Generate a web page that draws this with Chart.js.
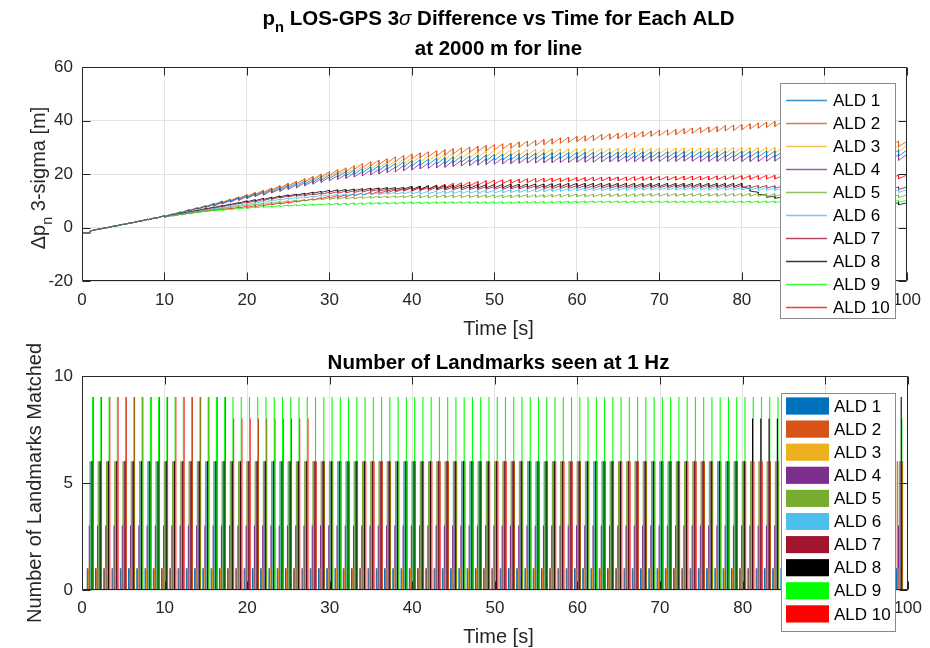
<!DOCTYPE html>
<html>
<head>
<meta charset="utf-8">
<title>ALD 3-sigma difference and landmarks matched</title>
<script src="https://cdn.jsdelivr.net/npm/chart.js@4.4.1/dist/chart.umd.min.js"></script>
<style>
  html, body { margin: 0; padding: 0; background: #ffffff; }
  #wrap { position: relative; width: 930px; height: 648px; overflow: hidden; }
  canvas { position: absolute; left: 0; }
  #sigmaChart { top: 0; }
  #landmarkChart { top: 340px; }
</style>
</head>
<body>
<div id="wrap">
  <canvas id="sigmaChart" width="930" height="340"></canvas>
  <canvas id="landmarkChart" width="930" height="308"></canvas>
</div>
<script>
// ---------------------------------------------------------------------------
// Data
// ---------------------------------------------------------------------------
const aldNames = ['ALD 1', 'ALD 2', 'ALD 3', 'ALD 4', 'ALD 5', 'ALD 6', 'ALD 7', 'ALD 8', 'ALD 9', 'ALD 10'];
const aldColors = ['#0072BD', '#D95319', '#EDB120', '#7E2F8E', '#77AC30', '#4DBEEE', '#A2142F', '#000000', '#00FF00', '#FF0000'];

// landmark update instants [s]
const updateTimes = [0,1,2,3,4,5,6,7,8,9,10,11,12,13,14,15,16,17,18,19,20,21,22,23,24,25,26,27,28,29,30,31,32,33,34,35,36,37,38,39,40,41,42,43,44,45,46,47,48,49,50,51,52,53,54,55,56,57,58,59,60,61,62,63,64,65,66,67,68,69,70,71,72,73,74,75,76,77,78,79,80,81,82,83,84,85,86,87,88,89,90,91,92,93,94,95,96,97,98,99,100];

// 3-sigma difference [m] right after each update (t = 0 .. 99)
// and right before each update (t = 1 .. 100)
const ald1After = [-2.1,-1.3,-0.7,-0.1,0.5,1.1,1.7,2.3,2.9,3.5,
  4.1,4.8,5.4,6.2,6.9,7.6,8.2,9.0,9.7,10.4,
  11.1,11.9,12.5,13.3,14.0,14.7,15.4,16.2,16.9,17.6,
  18.3,18.9,19.3,19.9,20.4,20.9,21.3,21.8,22.2,22.6,
  23.0,23.3,23.5,23.7,23.9,24.2,24.4,24.5,24.7,24.9,
  25.1,25.2,25.3,25.4,25.5,25.6,25.7,25.7,25.8,25.8,
  25.9,25.9,25.9,26.0,26.0,26.0,26.0,26.0,26.1,26.1,
  26.1,26.1,26.1,26.2,26.2,26.2,26.2,26.2,26.3,26.3,
  26.3,26.3,26.3,26.4,26.4,26.4,26.4,26.4,26.5,26.5,
  26.5,26.5,26.5,26.6,26.6,26.6,26.6,26.6,26.7,26.7];
const ald1Before = [-2.0,-0.6,0.0,0.6,1.2,1.8,2.4,3.1,3.7,4.4,
  5.0,5.8,6.6,7.3,8.0,8.8,9.6,10.3,11.2,11.9,
  12.7,13.5,14.3,15.0,15.9,16.6,17.4,18.1,19.0,19.7,
  20.3,20.9,21.5,22.0,22.7,23.1,23.6,24.0,24.6,25.0,
  25.3,25.5,25.9,26.1,26.4,26.6,26.7,26.9,27.1,27.3,
  27.4,27.5,27.6,27.7,27.8,27.9,27.9,28.0,28.0,28.1,
  28.1,28.1,28.2,28.2,28.2,28.2,28.2,28.3,28.3,28.3,
  28.3,28.3,28.4,28.4,28.4,28.4,28.4,28.5,28.5,28.5,
  28.5,28.5,28.6,28.6,28.6,28.6,28.6,28.7,28.7,28.7,
  28.7,28.7,28.8,28.8,28.8,28.8,28.8,28.9,28.9,28.9];

const ald2After = [-2.1,-1.3,-0.7,-0.1,0.5,1.1,1.7,2.3,2.9,3.5,
  4.1,4.9,5.6,6.3,7.0,7.8,8.6,9.3,10.0,10.8,
  11.5,12.3,13.1,14.0,14.7,15.5,16.3,17.1,17.9,18.8,
  19.5,20.2,20.9,21.7,22.3,23.0,23.6,24.1,24.6,25.1,
  25.7,26.1,26.5,26.7,27.1,27.5,27.8,28.1,28.4,28.7,
  29.0,29.3,29.6,30.0,30.3,30.6,30.9,31.2,31.5,31.8,
  32.1,32.3,32.5,32.8,33.0,33.2,33.4,33.6,33.9,34.1,
  34.3,34.5,34.7,35.0,35.2,35.4,35.6,35.8,36.1,36.3,
  36.5,36.8,37.1,37.4,37.7,38.0,38.2,38.3,38.5,37.0,
  35.8,34.8,33.9,33.1,32.4,31.8,31.3,30.9,30.6,30.3];
const ald2Before = [-2.0,-0.6,0.0,0.6,1.2,1.8,2.4,3.1,3.7,4.4,
  5.1,5.8,6.7,7.4,8.2,9.0,9.9,10.6,11.4,12.3,
  13.1,13.9,14.8,15.7,16.5,17.3,18.3,19.1,20.0,20.9,
  21.6,22.3,23.1,23.9,24.6,25.2,25.7,26.4,26.9,27.5,
  27.9,28.3,28.7,29.1,29.5,29.8,30.1,30.4,30.7,31.0,
  31.3,31.6,32.0,32.3,32.6,32.9,33.2,33.5,33.8,34.1,
  34.3,34.5,34.8,35.0,35.2,35.4,35.6,35.9,36.1,36.3,
  36.5,36.7,37.0,37.2,37.4,37.6,37.8,38.1,38.3,38.5,
  38.8,39.1,39.4,39.7,40.0,40.2,40.3,40.5,39.0,37.8,
  36.8,35.9,35.1,34.4,33.8,33.3,32.9,32.6,32.3,32.1];

const ald3After = [-2.1,-1.3,-0.7,-0.1,0.5,1.1,1.7,2.3,2.9,3.5,
  4.1,4.8,5.5,6.3,7.1,7.8,8.4,9.3,10.0,10.7,
  11.4,12.3,12.9,13.7,14.5,15.2,15.9,16.8,17.5,18.2,
  18.9,19.6,20.0,20.6,21.2,21.7,22.2,22.7,23.2,23.6,
  24.1,24.5,24.7,25.0,25.2,25.6,25.8,26.0,26.2,26.5,
  26.7,26.8,26.9,26.9,27.0,27.1,27.2,27.2,27.2,27.2,
  27.3,27.3,27.3,27.4,27.4,27.4,27.4,27.4,27.5,27.5,
  27.5,27.5,27.5,27.6,27.6,27.6,27.6,27.6,27.7,27.7,
  27.7,27.7,27.7,27.8,27.8,27.8,27.8,27.8,27.9,27.9,
  28.0,28.0,28.0,28.1,28.2,28.2,28.2,28.2,28.4,28.4];
const ald3Before = [-2.0,-0.6,0.0,0.6,1.2,1.8,2.4,3.1,3.7,4.4,
  5.0,5.9,6.7,7.5,8.2,9.0,9.9,10.6,11.5,12.2,
  13.1,13.9,14.7,15.5,16.4,17.1,18.0,18.7,19.6,20.3,
  21.0,21.6,22.2,22.8,23.5,24.0,24.5,25.0,25.6,26.1,
  26.5,26.7,27.2,27.4,27.8,28.0,28.2,28.4,28.7,28.9,
  29.0,29.1,29.1,29.2,29.3,29.4,29.4,29.4,29.4,29.5,
  29.5,29.5,29.6,29.6,29.6,29.6,29.6,29.7,29.7,29.7,
  29.7,29.7,29.8,29.8,29.8,29.8,29.8,29.9,29.9,29.9,
  29.9,29.9,30.0,30.0,30.0,30.0,30.0,30.1,30.1,30.2,
  30.2,30.2,30.3,30.4,30.4,30.4,30.4,30.6,30.6,30.6];

const ald4After = [-2.1,-1.3,-0.7,-0.1,0.5,1.1,1.7,2.3,2.9,3.5,
  4.1,4.8,5.4,6.1,6.8,7.5,8.1,8.8,9.5,10.1,
  10.8,11.6,12.1,12.9,13.5,14.2,14.8,15.6,16.2,16.9,
  17.5,18.0,18.3,18.9,19.3,19.7,20.0,20.5,20.8,21.2,
  21.5,21.9,22.1,22.3,22.5,22.8,23.0,23.1,23.3,23.5,
  23.7,23.8,23.9,24.0,24.1,24.1,24.2,24.2,24.3,24.3,
  24.4,24.4,24.4,24.5,24.5,24.6,24.6,24.6,24.7,24.7,
  24.7,24.7,24.7,24.8,24.8,24.7,24.7,24.7,24.8,24.8,
  24.7,24.7,24.7,24.8,24.8,24.8,24.8,24.8,24.9,24.9,
  24.9,24.9,24.9,25.0,25.0,25.0,25.0,25.0,25.1,25.1];
const ald4Before = [-2.0,-0.6,0.0,0.6,1.2,1.8,2.4,3.1,3.7,4.4,
  5.0,5.8,6.5,7.2,7.9,8.7,9.4,10.1,10.9,11.6,
  12.4,13.1,13.9,14.5,15.4,16.0,16.8,17.4,18.3,18.9,
  19.4,19.9,20.5,20.9,21.5,21.8,22.3,22.6,23.2,23.5,
  23.9,24.1,24.5,24.7,25.0,25.2,25.3,25.5,25.7,25.9,
  26.0,26.1,26.2,26.3,26.3,26.4,26.4,26.5,26.5,26.6,
  26.6,26.6,26.7,26.7,26.8,26.8,26.8,26.9,26.9,26.9,
  26.9,26.9,27.0,27.0,26.9,26.9,26.9,27.0,27.0,26.9,
  26.9,26.9,27.0,27.0,27.0,27.0,27.0,27.1,27.1,27.1,
  27.1,27.1,27.2,27.2,27.2,27.2,27.2,27.3,27.3,27.3];

const ald5After = [-2.1,-1.3,-0.7,-0.1,0.5,1.1,1.7,2.3,2.9,3.5,
  3.9,4.4,4.8,5.3,5.7,6.2,6.6,7.0,7.4,7.8,
  8.1,8.4,8.7,9.0,9.3,9.6,9.8,10.0,10.2,10.4,
  10.5,10.6,10.7,10.8,10.9,11.0,11.1,11.1,11.2,11.2,
  11.1,11.1,11.1,11.2,11.2,11.2,11.2,11.2,11.2,11.2,
  11.2,11.2,11.2,11.3,11.3,11.3,11.3,11.4,11.4,11.5,
  11.5,11.5,11.5,11.6,11.6,11.6,11.6,11.6,11.7,11.7,
  11.7,11.7,11.7,11.7,11.7,11.7,11.7,11.7,11.7,11.7,
  11.7,11.7,11.7,11.6,11.6,11.6,11.6,11.5,11.5,11.5,
  11.5,11.4,11.4,11.4,11.3,11.3,11.3,11.3,11.2,11.2];
const ald5Before = [-2.0,-0.6,0.0,0.6,1.2,1.8,2.4,3.1,3.7,4.4,
  4.6,5.0,5.5,5.9,6.4,6.8,7.2,7.6,8.0,8.5,
  8.8,9.1,9.4,9.7,10.0,10.2,10.4,10.6,10.8,11.1,
  11.2,11.3,11.4,11.5,11.6,11.7,11.7,11.8,11.8,12.1,
  12.1,12.1,12.2,12.2,12.2,12.2,12.2,12.2,12.2,12.2,
  12.2,12.2,12.3,12.3,12.3,12.3,12.4,12.4,12.5,12.5,
  12.5,12.5,12.6,12.6,12.6,12.6,12.6,12.7,12.7,12.7,
  12.7,12.7,12.7,12.7,12.7,12.7,12.7,12.7,12.7,12.7,
  12.7,12.7,12.6,12.6,12.6,12.6,12.5,12.5,12.5,12.5,
  12.4,12.4,12.4,12.3,12.3,12.3,12.3,12.2,12.2,12.2];

const ald6After = [-2.1,-1.3,-0.7,-0.1,0.5,1.1,1.7,2.3,2.9,3.5,
  3.9,4.4,4.9,5.4,5.9,6.4,6.9,7.3,7.8,8.2,
  8.6,9.0,9.4,9.8,10.2,10.6,10.8,11.1,11.3,11.6,
  11.7,11.8,11.9,12.1,12.2,12.3,12.4,12.5,12.5,12.6,
  12.5,12.5,12.6,12.6,12.7,12.7,12.7,12.8,12.8,12.9,
  12.9,13.0,13.1,13.1,13.2,13.3,13.4,13.5,13.5,13.6,
  13.7,13.7,13.8,13.8,13.9,13.9,13.9,13.9,14.0,14.0,
  14.0,14.0,14.0,14.0,14.0,14.0,14.0,14.0,14.0,14.0,
  14.0,14.0,13.9,13.9,13.8,13.8,13.7,13.7,13.6,13.6,
  13.5,13.5,13.4,13.4,13.3,13.3,13.2,13.2,13.2,13.1];
const ald6Before = [-2.0,-0.6,0.0,0.6,1.2,1.8,2.4,3.1,3.7,4.4,
  4.6,5.1,5.6,6.1,6.6,7.1,7.5,8.0,8.4,9.0,
  9.4,9.8,10.2,10.6,11.0,11.2,11.5,11.7,12.0,12.3,
  12.4,12.5,12.7,12.8,12.9,13.0,13.1,13.1,13.2,13.5,
  13.5,13.6,13.6,13.7,13.7,13.7,13.8,13.8,13.9,13.9,
  14.0,14.1,14.1,14.2,14.3,14.4,14.5,14.5,14.6,14.7,
  14.7,14.8,14.8,14.9,14.9,14.9,14.9,15.0,15.0,15.0,
  15.0,15.0,15.0,15.0,15.0,15.0,15.0,15.0,15.0,15.0,
  15.0,14.9,14.9,14.8,14.8,14.7,14.7,14.6,14.6,14.5,
  14.5,14.4,14.4,14.3,14.3,14.2,14.2,14.2,14.1,14.1];

const ald7After = [-2.1,-1.3,-0.7,-0.1,0.5,1.1,1.7,2.3,2.9,3.5,
  4.0,4.5,5.1,5.6,6.2,6.7,7.2,7.7,8.3,8.8,
  9.2,9.6,10.1,10.5,11.0,11.4,11.7,11.9,12.2,12.4,
  12.6,12.8,13.0,13.1,13.3,13.5,13.6,13.7,13.8,13.9,
  13.8,13.9,13.9,14.0,14.0,14.1,14.1,14.2,14.2,14.3,
  14.3,14.3,14.4,14.4,14.5,14.5,14.5,14.5,14.6,14.6,
  14.6,14.6,14.6,14.7,14.7,14.7,14.7,14.7,14.8,14.8,
  14.8,14.8,14.8,14.8,14.8,14.8,14.8,14.8,14.8,14.8,
  14.8,14.8,14.7,14.7,14.6,14.6,14.6,14.5,14.5,14.4,
  14.4,14.4,14.4,14.3,14.3,14.3,14.3,14.3,14.2,14.2];
const ald7Before = [-2.0,-0.6,0.0,0.6,1.2,1.8,2.4,3.1,3.7,4.4,
  4.7,5.3,5.8,6.4,6.9,7.4,7.9,8.5,9.0,9.6,
  10.0,10.5,10.9,11.4,11.8,12.1,12.3,12.6,12.8,13.2,
  13.4,13.6,13.7,13.9,14.1,14.2,14.3,14.4,14.5,14.8,
  14.9,14.9,15.0,15.0,15.1,15.1,15.2,15.2,15.3,15.3,
  15.3,15.4,15.4,15.5,15.5,15.5,15.5,15.6,15.6,15.6,
  15.6,15.6,15.7,15.7,15.7,15.7,15.7,15.8,15.8,15.8,
  15.8,15.8,15.8,15.8,15.8,15.8,15.8,15.8,15.8,15.8,
  15.8,15.7,15.7,15.6,15.6,15.6,15.5,15.5,15.4,15.4,
  15.4,15.4,15.3,15.3,15.3,15.3,15.3,15.2,15.2,15.2];

const ald8After = [-2.1,-1.3,-0.7,-0.1,0.5,1.1,1.7,2.3,2.9,3.5,
  4.0,4.6,5.2,5.7,6.3,6.9,7.5,8.0,8.6,9.1,
  9.6,10.0,10.5,10.9,11.4,11.8,12.1,12.4,12.8,13.1,
  13.3,13.5,13.6,13.8,13.9,14.1,14.2,14.3,14.3,14.4,
  14.2,14.3,14.4,14.4,14.5,14.6,14.7,14.7,14.8,14.8,
  14.9,14.9,15.0,15.0,15.1,15.1,15.1,15.2,15.2,15.3,
  15.3,15.3,15.3,15.3,15.3,15.3,15.3,15.3,15.3,15.3,
  15.3,15.3,15.3,15.3,15.3,15.3,15.3,15.3,15.3,15.3,
  15.3,13.6,12.4,11.3,10.9,10.6,10.4,10.2,10.0,9.8,
  9.6,9.4,9.2,9.1,8.9,8.8,8.7,8.6,8.5,8.5];
const ald8Before = [-2.0,-0.6,0.0,0.6,1.2,1.8,2.4,3.1,3.7,4.4,
  4.8,5.4,5.9,6.5,7.1,7.7,8.2,8.8,9.3,10.0,
  10.4,10.9,11.3,11.8,12.2,12.5,12.8,13.2,13.5,13.9,
  14.1,14.2,14.4,14.5,14.7,14.8,14.9,14.9,15.0,15.4,
  15.5,15.6,15.6,15.7,15.8,15.9,15.9,16.0,16.0,16.1,
  16.1,16.2,16.2,16.3,16.3,16.3,16.4,16.4,16.5,16.5,
  16.5,16.5,16.5,16.5,16.5,16.5,16.5,16.5,16.5,16.5,
  16.5,16.5,16.5,16.5,16.5,16.5,16.5,16.5,16.5,16.5,
  14.4,13.2,12.1,11.7,11.4,11.2,11.0,10.8,10.6,10.4,
  10.2,10.0,9.9,9.7,9.6,9.5,9.4,9.3,9.3,9.2];

const ald9After = [-2.1,-1.3,-0.7,-0.1,0.5,1.1,1.7,2.3,2.9,3.5,
  3.9,4.3,4.7,5.1,5.5,5.9,6.2,6.4,6.7,6.9,
  7.1,7.3,7.5,7.6,7.8,8.0,8.1,8.2,8.3,8.4,
  8.4,8.5,8.5,8.6,8.6,8.7,8.7,8.8,8.8,8.9,
  8.9,8.9,8.9,9.0,9.0,9.0,9.0,9.0,9.0,9.0,
  9.0,9.0,9.0,9.1,9.1,9.1,9.1,9.1,9.2,9.2,
  9.2,9.3,9.3,9.3,9.3,9.3,9.3,9.3,9.3,9.3,
  9.3,9.3,9.3,9.3,9.3,9.3,9.3,9.3,9.3,9.3,
  9.3,9.3,9.3,9.3,9.3,9.3,9.3,9.3,9.3,9.3,
  9.3,9.3,9.3,9.3,9.3,9.4,9.4,9.4,9.5,9.5];
const ald9Before = [-2.0,-0.6,0.0,0.6,1.2,1.8,2.4,3.1,3.7,4.4,
  4.5,4.9,5.3,5.7,6.1,6.4,6.6,6.9,7.1,7.5,
  7.7,7.9,8.0,8.2,8.4,8.5,8.6,8.7,8.8,9.0,
  9.1,9.1,9.2,9.2,9.3,9.3,9.4,9.4,9.5,9.5,
  9.5,9.5,9.6,9.6,9.6,9.6,9.6,9.6,9.6,9.6,
  9.6,9.6,9.7,9.7,9.7,9.7,9.7,9.8,9.8,9.8,
  9.9,9.9,9.9,9.9,9.9,9.9,9.9,9.9,9.9,9.9,
  9.9,9.9,9.9,9.9,9.9,9.9,9.9,9.9,9.9,9.9,
  9.9,9.9,9.9,9.9,9.9,9.9,9.9,9.9,9.9,9.9,
  9.9,9.9,9.9,9.9,10.0,10.0,10.0,10.1,10.1,10.1];

const ald10After = [-2.1,-1.3,-0.7,-0.1,0.5,1.1,1.7,2.3,2.9,3.5,
  3.9,4.3,4.8,5.2,5.7,6.1,6.4,6.7,7.0,7.3,
  7.5,7.8,8.1,8.5,8.8,9.1,9.5,9.9,10.3,10.7,
  10.9,11.2,11.5,11.8,12.1,12.4,12.7,13.0,13.3,13.6,
  13.6,13.9,14.2,14.5,14.8,15.1,15.3,15.6,15.8,16.1,
  16.3,16.4,16.5,16.7,16.8,16.9,17.0,17.1,17.1,17.2,
  17.3,17.3,17.4,17.4,17.5,17.5,17.5,17.6,17.6,17.7,
  17.7,17.7,17.7,17.8,17.8,17.8,17.8,17.9,17.9,18.0,
  18.0,18.0,18.0,18.1,18.1,18.1,18.1,18.1,18.1,18.1,
  18.1,18.1,18.1,18.1,18.1,18.2,18.2,18.2,18.2,18.2];
const ald10Before = [-2.0,-0.6,0.0,0.6,1.2,1.8,2.4,3.1,3.7,4.4,
  4.5,5.0,5.4,5.9,6.3,6.6,6.9,7.2,7.5,7.9,
  8.2,8.5,8.9,9.2,9.5,9.9,10.3,10.7,11.1,11.7,
  12.0,12.3,12.6,12.9,13.2,13.5,13.8,14.1,14.4,15.0,
  15.3,15.6,15.9,16.2,16.5,16.7,17.0,17.2,17.5,17.7,
  17.8,17.9,18.1,18.2,18.3,18.4,18.5,18.5,18.6,18.7,
  18.7,18.8,18.8,18.9,18.9,18.9,19.0,19.0,19.1,19.1,
  19.1,19.1,19.2,19.2,19.2,19.2,19.3,19.3,19.4,19.4,
  19.4,19.4,19.5,19.5,19.5,19.5,19.5,19.5,19.5,19.5,
  19.5,19.5,19.5,19.5,19.6,19.6,19.6,19.6,19.6,19.6];

const sigmaAfter = [ald1After, ald2After, ald3After, ald4After, ald5After, ald6After, ald7After, ald8After, ald9After, ald10After];
const sigmaBefore = [ald1Before, ald2Before, ald3Before, ald4Before, ald5Before, ald6Before, ald7Before, ald8Before, ald9Before, ald10Before];

// 1 Hz landmark matching instants [s]
const matchSeconds = [1,2,3,4,5,6,7,8,9,10,11,12,13,14,15,16,17,18,19,20,21,22,23,24,25,26,27,28,29,30,31,32,33,34,35,36,37,38,39,40,41,42,43,44,45,46,47,48,49,50,51,52,53,54,55,56,57,58,59,60,61,62,63,64,65,66,67,68,69,70,71,72,73,74,75,76,77,78,79,80,81,82,83,84,85,86,87,88,89,90,91,92,93,94,95,96,97,98,99];

// number of landmarks matched per ALD at each instant
const ald1Matched = [1,1,1,1,1,1,1,1,1,1, 1,1,1,1,1,1,1,1,1,1, 1,1,1,1,1,1,1,1,1,1, 1,1,1,1,1,1,1,1,1,1, 1,1,1,1,1,1,1,1,1,1,
  1,1,1,1,1,1,1,1,1,1, 1,1,1,1,1,1,1,1,1,1, 1,1,1,1,1,1,1,1,1,1, 1,1,1,1,1,1,1,1,1,1, 1,1,1,1,1,1,1,1,1];
const ald2Matched = [1,1,1,1,1,1,1,1,1,1, 1,1,1,1,1,1,1,1,1,1, 1,1,1,1,1,1,1,1,1,1, 1,1,1,1,1,1,1,1,1,1, 1,1,1,1,1,1,1,1,1,1,
  1,1,1,1,1,1,1,1,1,1, 1,1,1,1,1,1,1,1,1,1, 1,1,1,1,1,1,1,1,1,1, 1,1,1,1,1,1,1,1,1,6, 6,6,6,6,6,6,6,6,6];
const ald3Matched = [1,1,1,1,1,1,1,1,1,1, 1,1,1,1,1,1,1,1,1,1, 1,1,1,1,1,1,1,1,1,1, 1,1,1,1,1,1,1,1,1,1, 1,1,1,1,1,1,1,1,1,1,
  1,1,1,1,1,1,1,1,1,1, 1,1,1,1,1,1,1,1,1,1, 1,1,1,1,1,1,1,1,1,1, 1,1,1,1,1,1,1,1,1,1, 1,1,1,1,1,1,1,1,1];
const ald4Matched = [3,3,3,3,3,3,3,3,3,3, 3,3,3,3,3,3,3,3,3,3, 3,3,3,3,3,3,3,3,3,3, 3,3,3,3,3,3,3,3,3,3, 3,3,3,3,3,3,3,3,3,3,
  3,3,3,3,3,3,3,3,3,3, 3,3,3,3,3,3,3,3,3,3, 3,3,3,3,3,3,3,3,3,3, 3,3,3,3,3,3,3,3,3,3, 3,3,3,3,3,3,3,3,3];
const ald5Matched = [6,6,6,6,6,6,6,6,6,6, 6,6,6,6,6,6,6,6,6,6, 6,6,6,6,6,6,6,6,6,6, 6,6,6,6,6,6,6,6,6,6, 6,6,6,6,6,6,6,6,6,6,
  6,6,6,6,6,6,6,6,6,6, 6,6,6,6,6,6,6,6,6,6, 6,6,6,6,6,6,6,6,6,6, 6,6,6,6,6,6,6,6,6,6, 6,6,6,6,6,6,6,6,6];
const ald6Matched = [6,6,6,6,6,6,6,6,6,6, 6,6,6,6,6,6,6,6,6,6, 6,6,6,6,6,6,6,6,6,6, 6,6,6,6,6,6,6,6,6,6, 6,6,6,6,6,6,6,6,6,6,
  6,6,6,6,6,6,6,6,6,6, 6,6,6,6,6,6,6,6,6,6, 6,6,6,6,6,6,6,6,6,6, 6,6,6,6,6,6,6,6,6,6, 6,6,6,6,6,6,6,6,6];
const ald7Matched = [6,6,6,6,6,6,6,6,6,6, 6,6,6,6,6,6,6,6,6,6, 6,6,6,6,6,6,6,6,6,6, 6,6,6,6,6,6,6,6,6,6, 6,6,6,6,6,6,6,6,6,6,
  6,6,6,6,6,6,6,6,6,6, 6,6,6,6,6,6,6,6,6,6, 6,6,6,6,6,6,6,6,6,6, 6,6,6,6,6,6,6,6,6,6, 6,6,6,6,6,6,6,6,6];
const ald8Matched = [6,6,6,6,6,6,6,6,6,6, 6,6,6,6,6,6,6,6,6,6, 6,6,6,6,6,6,6,6,6,6, 6,6,6,6,6,6,6,6,6,6, 6,6,6,6,6,6,6,6,6,6,
  6,6,6,6,6,6,6,6,6,6, 6,6,6,6,6,6,6,6,6,6, 6,6,6,6,6,6,6,6,6,6, 8,8,8,8,8,8,8,8,8,8, 9,9,9,9,9,9,9,9,9];
const ald9Matched = [9,9,9,9,9,9,9,9,9,9, 9,9,9,9,9,9,9,9,9,9, 9,9,9,9,9,9,9,9,9,9, 9,9,9,9,9,9,9,9,9,9, 9,9,9,9,9,9,9,9,9,9,
  9,9,9,9,9,9,9,9,9,9, 9,9,9,9,9,9,9,9,9,9, 9,9,9,9,9,9,9,9,9,9, 9,9,9,9,9,9,9,9,9,9, 9,9,9,9,9,8,8,8,8];
const ald10Matched = [9,9,9,9,9,9,9,9,9,9, 9,9,9,9,9,9,9,8,8,8, 8,8,8,8,8,8,8,6,6,6, 6,6,6,6,6,6,6,6,6,6, 6,6,6,6,6,6,6,6,6,6,
  6,6,6,6,6,6,6,6,6,6, 6,6,6,6,6,6,6,6,6,6, 6,6,6,6,6,6,6,6,6,6, 6,6,6,6,6,6,6,6,6,6, 6,6,6,6,6,6,6,6,6];
const landmarksMatched = [ald1Matched, ald2Matched, ald3Matched, ald4Matched, ald5Matched, ald6Matched, ald7Matched, ald8Matched, ald9Matched, ald10Matched];

// axis ticks
const timeTicks = [0, 10, 20, 30, 40, 50, 60, 70, 80, 90, 100];
const sigmaTicks = [-20, 0, 20, 40, 60];
const countTicks = [0, 5, 10];

// ---------------------------------------------------------------------------
// Styling helpers
// ---------------------------------------------------------------------------
const FONT = '"Liberation Sans", Arial, Helvetica, sans-serif';
const AXIS_INK = '#262626';
const GRID_INK = '#e3e3e3';
Chart.defaults.font.family = FONT;
Chart.defaults.color = AXIS_INK;

function withAlpha(hex, a) {
  const n = parseInt(hex.slice(1), 16);
  return `rgba(${(n >> 16) & 255},${(n >> 8) & 255},${n & 255},${a})`;
}

// Sawtooth polyline: slow growth between updates, sharp drop at each update
function sawtoothPoints(after, before) {
  const pts = [{ x: updateTimes[0], y: after[0] }];
  for (let i = 1; i < updateTimes.length; i++) {
    pts.push({ x: updateTimes[i], y: before[i - 1] });
    if (i < after.length) pts.push({ x: updateTimes[i], y: after[i] });
  }
  return pts;
}

// Text with optional subscript / italic runs, centred on (cx, cy)
function drawRich(ctx, runs, cx, cy, size, weight, angle, color) {
  ctx.save();
  ctx.translate(cx, cy);
  if (angle) ctx.rotate(angle);
  ctx.fillStyle = color;
  ctx.textBaseline = 'alphabetic';
  ctx.textAlign = 'left';
  const pieces = runs.map(r => {
    const fs = r.sub ? size * 0.72 : size;
    const font = `${r.italic ? 'italic ' : ''}${r.weight || weight} ${fs}px ${FONT}`;
    ctx.font = font;
    return { text: r.text, font, w: ctx.measureText(r.text).width, dy: r.sub ? size * 0.32 : 0 };
  });
  const total = pieces.reduce((s, p) => s + p.w, 0);
  let x = -total / 2;
  const base = size * 0.358;
  for (const p of pieces) {
    ctx.font = p.font;
    ctx.fillText(p.text, x, base + p.dy);
    x += p.w;
  }
  ctx.restore();
}

function textPlugin(items) {
  return {
    id: 'pageText',
    afterDraw(chart) {
      for (const t of items) {
        drawRich(chart.ctx, t.runs, t.x, t.y, t.size, t.weight, t.angle || 0, t.color);
      }
    }
  };
}

// Box around the axes with inward tick marks on all four sides
function framePlugin(xTicks, yTicks) {
  return {
    id: 'axesFrame',
    afterDatasetsDraw(chart) {
      const { ctx, chartArea: a, scales } = chart;
      const L = Math.round(a.left) + 0.5, R = Math.round(a.right) - 0.5;
      const T = Math.round(a.top) + 0.5, B = Math.round(a.bottom) - 0.5;
      ctx.save();
      ctx.strokeStyle = AXIS_INK;
      ctx.lineWidth = 1;
      ctx.beginPath();
      ctx.rect(L, T, R - L, B - T);
      const len = 8;
      for (const v of xTicks) {
        const px = Math.round(scales.x.getPixelForValue(v)) + 0.5;
        ctx.moveTo(px, B); ctx.lineTo(px, B - len);
        ctx.moveTo(px, T); ctx.lineTo(px, T + len);
      }
      for (const v of yTicks) {
        const py = Math.round(scales.y.getPixelForValue(v)) + 0.5;
        ctx.moveTo(L, py); ctx.lineTo(L + len, py);
        ctx.moveTo(R, py); ctx.lineTo(R - len, py);
      }
      ctx.stroke();
      ctx.restore();
    }
  };
}

// Boxed legend placed over the plot
function legendPlugin(box, swatch) {
  return {
    id: 'boxLegend',
    afterDraw(chart) {
      const { ctx } = chart;
      ctx.save();
      ctx.fillStyle = '#ffffff';
      ctx.fillRect(box.x, box.y, box.w, box.h);
      ctx.strokeStyle = '#8a8a8a';
      ctx.lineWidth = 1;
      ctx.strokeRect(box.x + 0.5, box.y + 0.5, box.w - 1, box.h - 1);
      ctx.font = `17px ${FONT}`;
      ctx.textBaseline = 'middle';
      ctx.textAlign = 'left';
      chart.data.datasets.forEach((ds, i) => {
        const cy = box.firstRow + i * box.step;
        if (swatch === 'line') {
          ctx.strokeStyle = ds.borderColor;
          ctx.lineWidth = 1.5;
          ctx.beginPath();
          ctx.moveTo(box.x + 6, Math.round(cy) + 0.5);
          ctx.lineTo(box.x + 47, Math.round(cy) + 0.5);
          ctx.stroke();
        } else {
          ctx.fillStyle = aldColors[i];
          ctx.fillRect(box.x + 5, cy - 8.5, 43, 17);
          ctx.strokeStyle = withAlpha(aldColors[i], 0.45);
          ctx.lineWidth = 1;
          ctx.strokeRect(box.x + 5.5, cy - 8, 42, 16);
        }
        ctx.fillStyle = '#000000';
        ctx.fillText(ds.label, box.x + 53, cy + 1);
      });
      ctx.restore();
    }
  };
}

function fixedWidth(w) { return s => { s.width = w; }; }
function fixedHeight(h) { return s => { s.height = h; }; }

function commonScales(xMin, xMax, xStep, yMin, yMax, yStep, xAxisHeight, xPad) {
  return {
    x: {
      type: 'linear', min: xMin, max: xMax, offset: false,
      grid: { color: GRID_INK, lineWidth: 1, drawTicks: false, offset: false },
      border: { display: false },
      ticks: { stepSize: xStep, padding: xPad, autoSkip: false, maxRotation: 0, font: { size: 17 }, color: AXIS_INK },
      afterFit: fixedHeight(xAxisHeight)
    },
    y: {
      type: 'linear', min: yMin, max: yMax,
      grid: { color: GRID_INK, lineWidth: 1, drawTicks: false },
      border: { display: false },
      ticks: { stepSize: yStep, padding: 9, font: { size: 17 }, color: AXIS_INK },
      afterFit: fixedWidth(82)
    }
  };
}

// ---------------------------------------------------------------------------
// Upper panel: 3-sigma difference vs time
// ---------------------------------------------------------------------------
const sigmaDatasets = aldNames.map((name, i) => ({
  label: name,
  data: sawtoothPoints(sigmaAfter[i], sigmaBefore[i]),
  borderColor: withAlpha(aldColors[i], 0.78),
  borderWidth: 1,
  pointRadius: 0,
  tension: 0,
  fill: false
}));

new Chart(document.getElementById('sigmaChart'), {
  type: 'line',
  data: { datasets: sigmaDatasets },
  options: {
    responsive: false,
    animation: false,
    events: [],
    layout: { padding: { top: 67, right: 15, left: 0, bottom: 0 } },
    plugins: { legend: { display: false }, title: { display: false }, tooltip: { enabled: false } },
    scales: commonScales(0, 100, 10, -20, 60, 20, 59, 9)
  },
  plugins: [
    framePlugin(timeTicks, sigmaTicks),
    textPlugin([
      { runs: [{ text: 'p' }, { text: 'n', sub: true }, { text: ' LOS-GPS 3' }, { text: 'σ', italic: true, weight: 'normal' }, { text: ' Difference vs Time for Each ALD' }],
        x: 498.5, y: 18, size: 20.5, weight: 'bold', color: '#000000' },
      { runs: [{ text: 'at 2000 m for line' }], x: 498.5, y: 48, size: 20.5, weight: 'bold', color: '#000000' },
      { runs: [{ text: 'Time [s]' }], x: 498.5, y: 328, size: 20, weight: 'normal', color: AXIS_INK },
      { runs: [{ text: 'Δp' }, { text: 'n', sub: true }, { text: ' 3-sigma [m]' }], x: 38, y: 178, size: 20, weight: 'normal', color: AXIS_INK, angle: -Math.PI / 2 }
    ]),
    legendPlugin({ x: 780, y: 83, w: 116, h: 236, firstRow: 100, step: 23 }, 'line')
  ]
});

// ---------------------------------------------------------------------------
// Lower panel: landmarks matched at 1 Hz
// ---------------------------------------------------------------------------
const countDatasets = aldNames.map((name, i) => ({
  label: name,
  data: matchSeconds.map((t, k) => ({ x: t, y: landmarksMatched[i][k] })),
  backgroundColor: aldColors[i],
  borderWidth: 0,
  categoryPercentage: 0.8,
  barPercentage: 0.8,
  inflateAmount: 0.28
}));

new Chart(document.getElementById('landmarkChart'), {
  type: 'bar',
  data: { datasets: countDatasets },
  options: {
    responsive: false,
    animation: false,
    events: [],
    layout: { padding: { top: 36, right: 15, left: 0, bottom: 0 } },
    plugins: { legend: { display: false }, title: { display: false }, tooltip: { enabled: false } },
    scales: commonScales(0, 100, 10, 0, 10, 5, 58, 8)
  },
  plugins: [
    framePlugin(timeTicks, countTicks),
    textPlugin([
      { runs: [{ text: 'Number of Landmarks seen at 1 Hz' }], x: 498.5, y: 22, size: 20.5, weight: 'bold', color: '#000000' },
      { runs: [{ text: 'Time [s]' }], x: 498.5, y: 296, size: 20, weight: 'normal', color: AXIS_INK },
      { runs: [{ text: 'Number of Landmarks Matched' }], x: 34, y: 143, size: 20, weight: 'normal', color: AXIS_INK, angle: -Math.PI / 2 }
    ]),
    legendPlugin({ x: 781, y: 53, w: 115, h: 239, firstRow: 66, step: 23.1 }, 'box')
  ]
});
</script>
</body>
</html>
